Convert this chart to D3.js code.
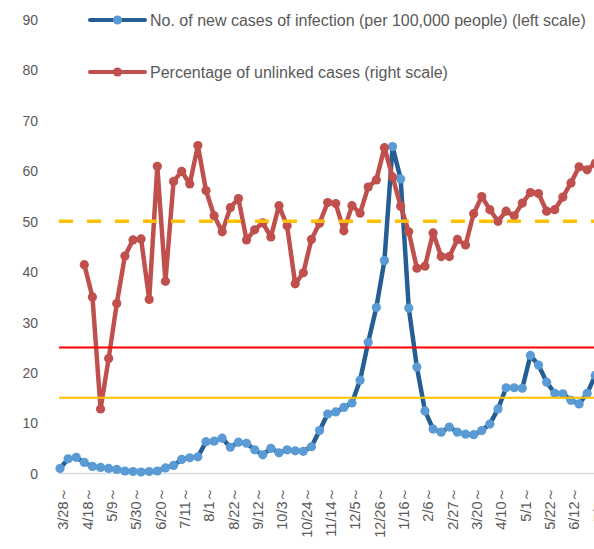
<!DOCTYPE html>
<html><head><meta charset="utf-8">
<script src="https://cdn.jsdelivr.net/npm/d3@7"></script>
<style>
body{margin:0;background:#fff}
svg{display:block}
text{font-family:"Liberation Sans",Arial,sans-serif}
</style>
</head><body>
<svg id="chart" width="594" height="549"></svg>
<script>
// ---- data ----
const tickLabels = ["3/28","4/18","5/9","5/30","6/20","7/11","8/1","8/22","9/12","10/3","10/24","11/14","12/5","12/26","1/16","2/6","2/27","3/20","4/10","5/1","5/22","6/12","7/3"];
const yTicks = [0,10,20,30,40,50,60,70,80,90];
const newCases = [1.0,2.9,3.2,2.2,1.4,1.2,1.0,0.8,0.5,0.4,0.3,0.4,0.5,1.1,1.6,2.8,3.1,3.3,6.3,6.4,
  7.0,5.2,6.2,6.0,4.7,3.7,5.0,4.1,4.7,4.5,4.4,5.3,8.5,11.8,12.2,13.1,14.0,18.5,26.0,32.9,
  42.2,64.8,58.4,32.8,21.1,12.4,8.8,8.2,9.2,8.2,7.8,7.7,8.5,9.8,12.8,17.0,17.0,16.9,23.4,21.5,
  18.1,15.9,15.8,14.5,13.8,15.9,19.5];
const unlinkedPct = [null,null,null,41.4,35.0,12.8,22.8,33.7,43.1,46.3,46.5,34.5,60.9,38.1,57.9,59.9,57.4,65.0,56.1,51.1,
  47.9,52.7,54.5,46.3,48.3,49.7,46.9,53.1,49.1,37.6,39.8,46.4,49.6,53.7,53.5,48.1,53.1,51.6,56.8,58.2,
  64.6,58.8,53.0,47.9,40.7,41.1,47.7,43.0,43.0,46.4,45.3,51.5,54.9,52.3,50.0,52.0,51.1,53.6,55.7,55.5,
  52.0,52.3,54.8,57.6,60.8,60.2,61.5];
const stage4Cases = 25;
const stage3Cases = 15;
const unlinkedThreshold = 50;
const seriesNames = ["No. of new cases of infection (per 100,000 people) (left scale)","Percentage of unlinked cases (right scale)"];

// ---- drawing ----
const svg = d3.select("#chart");
const W = 594;
const x = d3.scaleLinear().domain([0, 66]).range([60, 595.3]);
const y = d3.scaleLinear().domain([0, 90]).range([473.5, 19.5]);
const yR = d3.scaleLinear().domain([0, 90]).range([473.5, 19.5]);

const blueLine = "#245E92", blueMark = "#5B9BD5", red = "#C0504D";
const textCol = "#595959";

// y axis (left)
const yAxis = svg.append("g").attr("transform","translate(38,0)")
  .call(d3.axisLeft(y).tickValues(yTicks).tickSize(0).tickPadding(0));
yAxis.select(".domain").remove();
yAxis.selectAll("text").attr("fill",textCol).style("font-size","14px").attr("dy","0.35em");

// x axis
const xAxis = svg.append("g").attr("transform","translate(0,473.5)")
  .call(d3.axisBottom(x).tickValues(d3.range(0, 67, 3)).tickSize(0)
    .tickFormat((d,i)=>tickLabels[i] + "～"));
xAxis.select(".domain").attr("d", `M58,0H${W+10}`).attr("stroke","#d9d9d9").attr("stroke-width",1.5);
xAxis.selectAll("text")
  .attr("fill",textCol).style("font-size","14.5px")
  .attr("text-anchor","end")
  .attr("transform", d => `translate(2.5,13) rotate(-90)`)
  .attr("x",0).attr("y",0).attr("dy","0.36em");

// data series
const blueData = newCases.map((v,i)=>({i,v}));
const redData = unlinkedPct.map((v,i)=>({i,v})).filter(d=>d.v!=null);

svg.append("path").datum(blueData)
  .attr("fill","none").attr("stroke",blueLine).attr("stroke-width",4.5).attr("stroke-linejoin","round")
  .attr("d", d3.line().x(d=>x(d.i)).y(d=>y(d.v)));
svg.append("g").selectAll("circle").data(blueData).join("circle")
  .attr("cx",d=>x(d.i)).attr("cy",d=>y(d.v)).attr("r",4.6).attr("fill",blueMark);

svg.append("path").datum(redData)
  .attr("fill","none").attr("stroke",red).attr("stroke-width",4.5).attr("stroke-linejoin","round")
  .attr("d", d3.line().x(d=>x(d.i)).y(d=>yR(d.v)));
svg.append("g").selectAll("circle").data(redData).join("circle")
  .attr("cx",d=>x(d.i)).attr("cy",d=>yR(d.v)).attr("r",4.6).attr("fill",red);

// threshold lines
svg.append("line").attr("x1",59).attr("x2",W+10).attr("y1",y(stage4Cases)).attr("y2",y(stage4Cases))
  .attr("stroke","#FF0000").attr("stroke-width",2);
svg.append("line").attr("x1",59).attr("x2",W+10).attr("y1",y(stage3Cases)).attr("y2",y(stage3Cases))
  .attr("stroke","#FFC000").attr("stroke-width",2);
svg.append("line").attr("x1",59).attr("x2",W+10).attr("y1",yR(unlinkedThreshold)).attr("y2",yR(unlinkedThreshold))
  .attr("stroke","#FFC000").attr("stroke-width",3.5).attr("stroke-dasharray","14,14");

// legend
const legend = [
  {name: seriesNames[0], line: blueLine, mark: blueMark, y: 20},
  {name: seriesNames[1], line: red, mark: red, y: 72}
];
const lg = svg.append("g").selectAll("g").data(legend).join("g")
  .attr("transform", d=>`translate(0,${d.y})`);
lg.append("line").attr("x1",90).attr("x2",145).attr("y1",0).attr("y2",0)
  .attr("stroke",d=>d.line).attr("stroke-width",4).attr("stroke-linecap","round");
lg.append("circle").attr("cx",117.5).attr("cy",0).attr("r",4.6).attr("fill",d=>d.mark);
lg.append("text").attr("x",150).attr("y",0).attr("dy","0.35em")
  .attr("fill",textCol).style("font-size","16px").text(d=>d.name);
</script>
</body></html>
